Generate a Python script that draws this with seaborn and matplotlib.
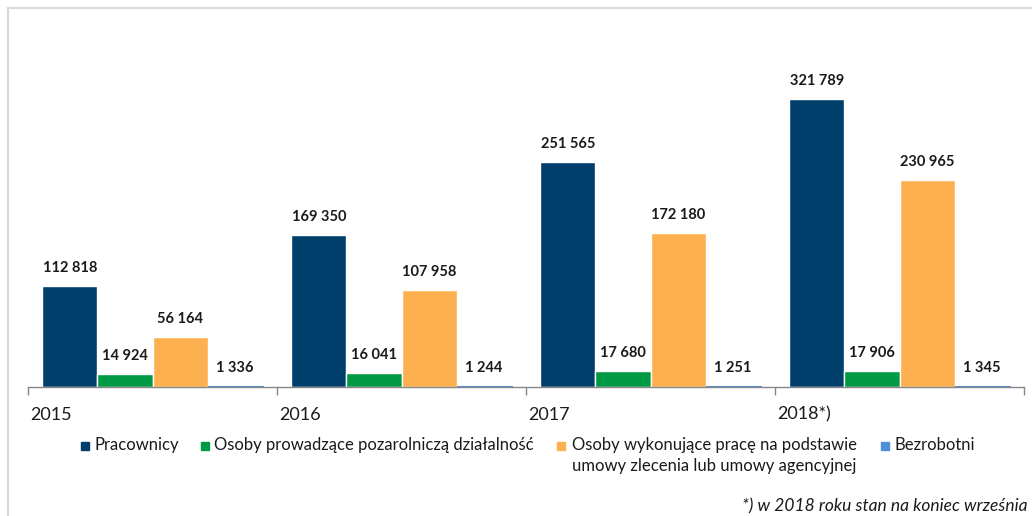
import pandas as pd
import matplotlib
matplotlib.use("Agg")
import matplotlib.pyplot as plt
from matplotlib.lines import Line2D
from matplotlib.patches import Rectangle
import seaborn as sns

years = ["2015", "2016", "2017", "2018*)"]
series = ["Pracownicy",
          "Osoby prowadzące pozarolniczą działalność",
          "Osoby wykonujące pracę na podstawie\numowy zlecenia lub umowy agencyjnej",
          "Bezrobotni"]
pracownicy = [112818, 169350, 251565, 321789]
dzialalnosc = [14924, 16041, 17680, 17906]
zlecenia = [56164, 107958, 172180, 230965]
bezrobotni = [1336, 1244, 1251, 1345]
colors = ["#003F6B", "#009A44", "#FDB04F", "#4F8FD8"]

rows = []
for name, vals in zip(series, [pracownicy, dzialalnosc, zlecenia, bezrobotni]):
    for y, v in zip(years, vals):
        rows.append({"year": y, "series": name, "value": v})
df = pd.DataFrame(rows)

sns.set_theme(style="white")
plt.rcParams['font.family'] = ['Lato', 'DejaVu Sans']

W, H = 1032, 516
fig = plt.figure(figsize=(W / 100, H / 100), dpi=100)
ax = fig.add_axes([28/W, 1 - 387/H, 996/W, (387 - 20)/H])

sns.barplot(data=df, x="year", y="value", hue="series", palette=colors,
            width=0.884, saturation=1, ax=ax, legend=False, errorbar=None)

# tiny unemployed bars: give them an outline so they show as a thin line
for p in ax.containers[-1]:
    p.set_edgecolor(colors[-1])
    p.set_linewidth(0.8)

for c in ax.containers:
    ax.bar_label(c, labels=[f"{int(v):,}".replace(",", " ") for v in c.datavalues],
                 padding=8, fontsize=10.5, fontweight="bold", color="#1a1a1a")

ax.set_xlim(-0.5, 3.5)
ax.set_ylim(0, 321789 * (387 - 20) / 288)
ax.set_xlabel("")
ax.set_ylabel("")
ax.set_yticks([])
for s in ["top", "right", "left"]:
    ax.spines[s].set_visible(False)
ax.spines["bottom"].set_color("#868686")
ax.spines["bottom"].set_linewidth(1)
ax.set_xticks([-0.5, 0.5, 1.5, 2.5, 3.5])
ax.set_xticklabels([])
ax.tick_params(axis="x", bottom=True, length=6, width=1, color="#868686", direction="out")
for i, y in enumerate(years):
    ax.text(i - 0.5 + 0.01, -0.075, y, transform=ax.get_xaxis_transform(),
            ha="left", va="center", fontsize=13, color="#1a1a1a")

# legend drawn by hand so the markers sit on the first text line
leg_sq = [81, 201, 557, 881]
leg_tx = [95, 214, 572, 895]
for sx, tx, c, name in zip(leg_sq, leg_tx, colors, series):
    fig.add_artist(Rectangle((sx / W, 1 - 450 / H), 8 / W, 8 / H, color=c,
                             transform=fig.transFigure))
    fig.text(tx / W, 1 - 437 / H, name, ha="left", va="top", fontsize=12,
             color="#1a1a1a", linespacing=1.35)

fig.text(1028/W, 1 - 506/H, "*) w 2018 roku stan na koniec września",
         ha="right", va="center", fontsize=12.5, style="italic", color="#1a1a1a")

fig.add_artist(Line2D([8/W, 8/W], [0, 1 - 8/H], color="#D9D9D9", lw=1.5,
                      transform=fig.transFigure))
fig.add_artist(Line2D([8/W, 1], [1 - 8/H, 1 - 8/H], color="#D9D9D9", lw=1.5,
                      transform=fig.transFigure))

fig.savefig("out.png", dpi=100)
